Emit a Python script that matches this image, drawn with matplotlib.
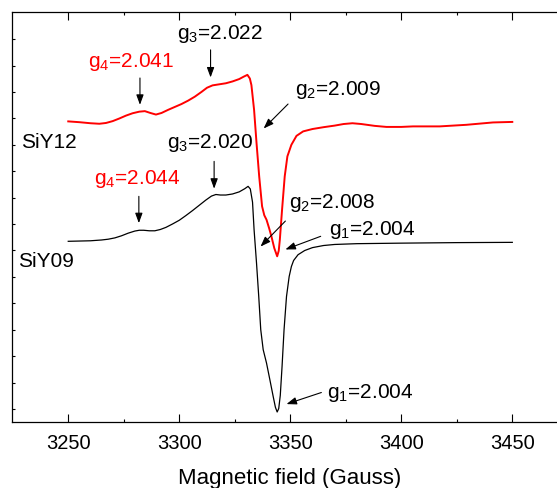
import numpy as np
import matplotlib
matplotlib.use("Agg")
import matplotlib.pyplot as plt

plt.rcParams['font.family'] = ['Liberation Sans', 'DejaVu Sans']
plt.rcParams['mathtext.fontset'] = 'custom'
plt.rcParams['mathtext.rm'] = 'Liberation Sans'
plt.rcParams['mathtext.it'] = 'Liberation Sans'

# ---- data (arbitrary intensity units) ----
field_siy09 = [3250, 3255, 3260, 3265, 3268, 3271, 3274, 3277, 3280, 3282, 3284,
               3286.5, 3289, 3291.5, 3294, 3297, 3300, 3303, 3306, 3309, 3312,
               3314.5, 3316.5, 3318.5, 3321, 3324, 3327, 3329.5, 3331, 3332, 3333,
               3333.7, 3334.8, 3335.8, 3336.7, 3337.8, 3339.3, 3340.8, 3342.3,
               3343.3, 3344.1, 3344.8, 3345.5, 3346.3, 3347.2, 3348.3, 3349.5,
               3350.5, 3351.5, 3353.5, 3356.5, 3360, 3365, 3370, 3380, 3400,
               3425, 3450]
int_siy09 = [6.86, 6.87, 6.88, 6.91, 6.94, 6.99, 7.07, 7.17, 7.25, 7.28, 7.28,
             7.26, 7.26, 7.31, 7.39, 7.52, 7.66, 7.84, 8.03, 8.23, 8.43,
             8.58, 8.64, 8.62, 8.62, 8.66, 8.74, 8.86, 8.95, 8.85, 8.35,
             7.30, 6.03, 4.76, 3.50, 2.74, 2.23, 1.60, 0.96,
             0.55, 0.37, 0.50, 1.00, 2.10, 3.50, 4.76, 5.52,
             5.90, 6.13, 6.35, 6.51, 6.62, 6.70, 6.74, 6.77, 6.79,
             6.81, 6.82]

field_siy12 = [3250, 3255, 3260, 3264, 3267, 3270, 3273, 3276, 3279, 3282, 3284.5,
               3287, 3289.5, 3292, 3295, 3298, 3301, 3304, 3307, 3310, 3312.5,
               3315, 3318, 3321, 3324, 3327, 3329, 3330.7, 3331.8, 3332.5, 3333.7,
               3334.8, 3336.0, 3337.3, 3338.3, 3339.3, 3340.5, 3341.5, 3342.8,
               3344.1, 3344.8, 3345.3, 3346.3, 3347.5, 3348.7, 3350.5, 3352.8,
               3355.8, 3360, 3365, 3370, 3374, 3378, 3382, 3388, 3393.3, 3400,
               3405.3, 3417.3, 3429.3, 3441.3, 3450]
int_siy12 = [11.42, 11.39, 11.35, 11.33, 11.36, 11.43, 11.53, 11.64, 11.73, 11.79, 11.81,
             11.74, 11.68, 11.74, 11.86, 11.97, 12.08, 12.21, 12.36, 12.54, 12.70,
             12.79, 12.83, 12.87, 12.94, 13.03, 13.12, 13.19, 13.05, 12.80, 11.86,
             10.60, 9.33, 8.19, 7.85, 7.68, 7.35, 7.05, 6.60,
             6.29, 6.50, 6.92, 8.06, 9.33, 10.09, 10.53, 10.87,
             11.04, 11.13, 11.20, 11.26, 11.32, 11.35, 11.32, 11.25, 11.21, 11.21,
             11.23, 11.23, 11.29, 11.38, 11.40]

xticks = [3250, 3300, 3350, 3400, 3450]

# annotations: (text, color, text_x, text_y, tail_x, tail_y, head_x, head_y)
labels = [
    (r'g$_{3}$=2.022', 'black', 3299.2, 14.56, 3314.1, 14.14, 3314.1, 13.09),
    (r'g$_{4}$=2.041', 'red',   3259.1, 13.50, 3282.3, 13.07, 3282.3, 12.05),
    (r'g$_{2}$=2.009', 'black', 3352.2, 12.43, 3349.0, 12.08, 3338.0, 11.15),
    (r'g$_{3}$=2.020', 'black', 3294.6, 10.42, 3315.7, 9.90, 3315.7, 8.86),
    (r'g$_{4}$=2.044', 'red',   3261.5, 9.03, 3281.8, 8.57, 3281.8, 7.55),
    (r'g$_{2}$=2.008', 'black', 3349.6, 8.13, 3347.8, 7.63, 3336.6, 6.66),
    (r'g$_{1}$=2.004', 'black', 3367.5, 7.11, 3363.7, 7.05, 3347.8, 6.55),
    (r'g$_{1}$=2.004', 'black', 3366.4, 0.90, 3364.0, 1.11, 3348.3, 0.67),
]
samples = [('SiY12', 3228.8, 10.42), ('SiY09', 3227.5, 5.90)]

# ---- figure ----
W, H = 557, 488
fig = plt.figure(figsize=(W / 100, H / 100), dpi=100)
ax = fig.add_axes([12.3 / W, (H - 421.7) / H, 555.5 / W, 409.7 / H])

ax.plot(field_siy09, int_siy09, color='black', lw=0.9)
ax.plot(field_siy12, int_siy12, color='red', lw=1.4)

ax.set_xlim(3224.8, 3475)
ax.set_ylim(0, 15.58)

ax.set_xticks(xticks)
ax.set_xticks([3275, 3325, 3375, 3425], minor=True)
ax.set_yticks(np.linspace(0.483, 14.55, 15))
ax.set_yticklabels([])
ax.tick_params(axis='x', which='major', direction='in', length=6, width=0.8,
               labelsize=14.5, pad=8.5, top=True)
ax.tick_params(axis='x', which='minor', direction='in', length=2, width=0.8, top=True)
ax.tick_params(axis='y', which='major', direction='in', length=2.5, width=0.8)
for s in ax.spines.values():
    s.set_linewidth(0.9)

ax.set_xlabel('Magnetic field (Gauss)', fontsize=16)
ax.xaxis.set_label_coords(0.5, -0.113)

for txt, col, tx, ty, ax0, ay0, hx, hy in labels:
    ax.text(tx, ty, txt, color=col, fontsize=15, ha='left', va='baseline')
    ax.annotate('', xy=(hx, hy), xytext=(ax0, ay0),
                arrowprops=dict(arrowstyle='-|>,head_length=0.6,head_width=0.22',
                                lw=0.8, color='black', shrinkA=0, shrinkB=0,
                                mutation_scale=10))
for txt, tx, ty in samples:
    ax.text(tx, ty, txt, color='black', fontsize=15, ha='left', va='baseline')

fig.savefig('out.png', dpi=100)
